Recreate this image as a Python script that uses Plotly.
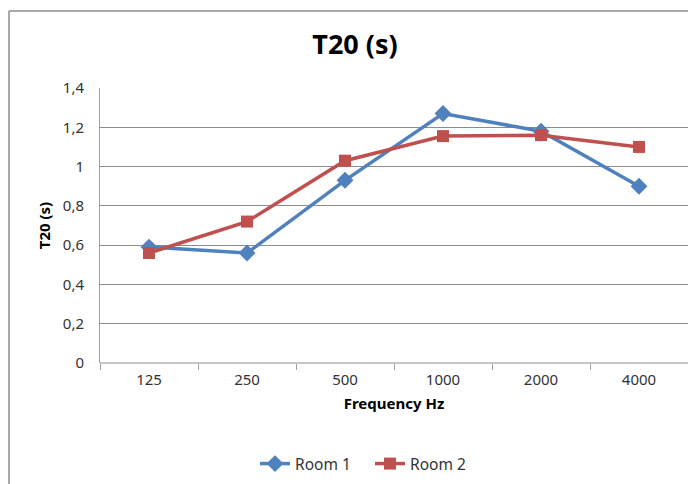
import plotly.graph_objects as go

categories = ["125", "250", "500", "1000", "2000", "4000"]
room1 = [0.59, 0.56, 0.93, 1.27, 1.18, 0.90]
room2 = [0.56, 0.72, 1.03, 1.155, 1.16, 1.10]
ytick_vals = [0, 0.2, 0.4, 0.6, 0.8, 1.0, 1.2, 1.4]
ytick_text = ["0", "0,2", "0,4", "0,6", "0,8", "1", "1,2", "1,4"]

OFF = 8  # page body margin offset
W, H = 696, 484
L = 100 - OFF
T = 88 - OFF
R = W - (688 - OFF)
B = H - (363 - OFF)
pw, ph = W - L - R, H - T - B


def px(x):
    return (x - OFF - L) / pw


def py(y):
    return (H - B - (y - OFF)) / ph


font = "Noto Sans"
fig = go.Figure()
fig.add_trace(go.Scatter(
    x=categories, y=room1, name="Room 1", mode="lines+markers",
    line=dict(color="#4F81BD", width=3.5),
    marker=dict(symbol="diamond", size=13, color="#4F81BD"),
))
fig.add_trace(go.Scatter(
    x=categories, y=room2, name="Room 2", mode="lines+markers",
    line=dict(color="#C0504D", width=3.5),
    marker=dict(symbol="square", size=12, color="#C0504D"),
))

fig.update_layout(
    width=W, height=H,
    margin=dict(l=L, r=R, t=T, b=B),
    paper_bgcolor="white", plot_bgcolor="white",
    font=dict(family=font, size=15, color="#333333"),
    title=dict(text="<b>T20 (s)</b>", x=(355 - OFF) / W, xref="container", xanchor="center",
               y=1 - (45 - OFF) / H, yref="container", yanchor="middle",
               font=dict(size=27, color="black", family=font)),
    showlegend=True,
    legend=dict(orientation="h", x=(370 - OFF) / W, xref="container", xanchor="center",
                y=1 - (464 - OFF) / H, yref="container", yanchor="middle",
                entrywidth=70, entrywidthmode="pixels",
                font=dict(size=15.5, color="#333333")),
    xaxis=dict(
        type="category", showgrid=False, zeroline=False,
        showline=False, ticks="outside", tickson="boundaries",
        ticklen=6, tickcolor="#A0A0A0", tickwidth=1,
        ticklabelstandoff=6,
        tickfont=dict(size=15, color="#333333"),
        title=dict(text="<b>Frequency Hz</b>", font=dict(size=15, color="black"), standoff=10),
        range=[-0.5, 5.5],
    ),
    yaxis=dict(
        range=[0, 1.4], tickvals=ytick_vals, ticktext=ytick_text,
        showgrid=True, gridcolor="#8C8C8C", gridwidth=1,
        zeroline=False, showline=True, linecolor="#A0A0A0", linewidth=1,
        ticks="", ticklabelstandoff=12, tickfont=dict(size=15, color="#333333"),
        title=dict(text="<b>T20 (s)</b>", font=dict(size=15, color="black"), standoff=8),
    ),
    shapes=[
        dict(type="line", xref="paper", yref="paper", x0=0, x1=1, y0=0, y1=0,
             line=dict(color="#8C8C8C", width=1), layer="below"),
        dict(type="line", xref="paper", yref="paper", x0=px(9), x1=px(9), y0=py(520), y1=py(11),
             line=dict(color="#8C8C8C", width=1.5)),
        dict(type="line", xref="paper", yref="paper", x0=px(9), x1=px(720), y0=py(11), y1=py(11),
             line=dict(color="#8C8C8C", width=1.5)),
    ],
)

fig.write_html("out.html")
